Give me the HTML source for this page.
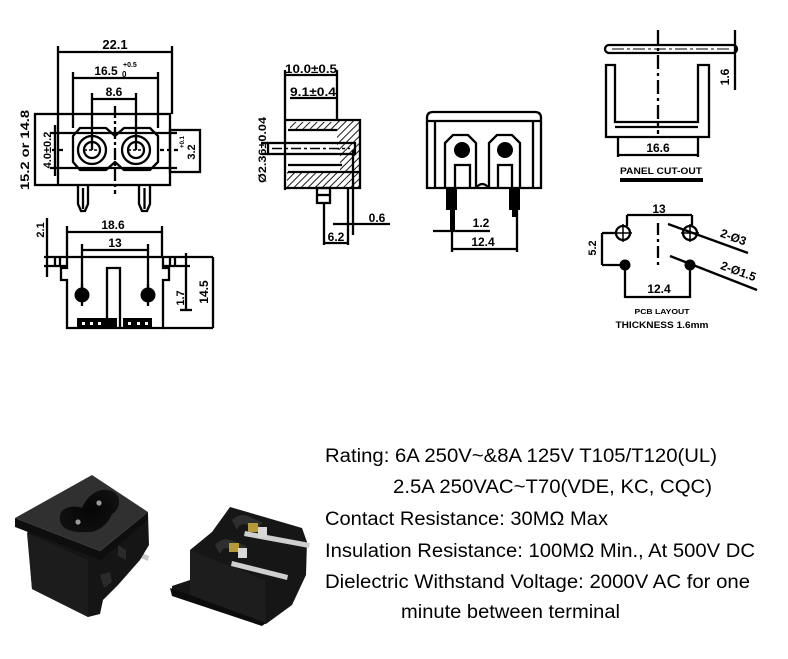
<!DOCTYPE html>
<html><head><meta charset="utf-8"><style>
html,body{margin:0;padding:0;background:#fff;}
svg{display:block}
.t{font-family:"Liberation Sans",Arial,sans-serif;font-weight:bold;fill:#000;stroke:none;}
.s{font-family:"Liberation Sans",Arial,sans-serif;fill:#000;stroke:none;font-size:19px;}
</style></head><body>
<svg width="788" height="659" viewBox="0 0 788 659" xmlns="http://www.w3.org/2000/svg">
<defs>
<pattern id="h" width="5" height="5" patternUnits="userSpaceOnUse" patternTransform="rotate(45)">
<line x1="0" y1="0" x2="0" y2="5" stroke="#000" stroke-width="1.8"/>
</pattern>
<radialGradient id="keyg" cx="0.5" cy="0.5" r="0.6"><stop offset="0" stop-color="#050505"/><stop offset="1" stop-color="#111"/></radialGradient>
</defs>

<!-- ============ VIEW A : front ============ -->
<g fill="none" stroke="#000" stroke-width="2.3">
  <line x1="58" y1="52" x2="172" y2="52"/>
  <line x1="58" y1="46" x2="58" y2="114"/>
  <line x1="172" y1="46" x2="172" y2="114"/>
  <line x1="73" y1="78" x2="158" y2="78"/>
  <line x1="73" y1="72" x2="73" y2="128"/>
  <line x1="158" y1="72" x2="158" y2="128"/>
  <line x1="92" y1="99" x2="136" y2="99"/>
  <line x1="92" y1="93" x2="92" y2="150"/>
  <line x1="136" y1="93" x2="136" y2="150"/>
  <rect x="35" y="114" width="135" height="71"/>
  <line x1="58" y1="114" x2="58" y2="185"/>
  <rect x="170" y="130" width="30" height="42"/>
  <line x1="50" y1="133" x2="177" y2="133"/>
  <line x1="50" y1="168" x2="177" y2="168"/>
  <line x1="55" y1="125" x2="55" y2="176"/>
  <line x1="52" y1="150" x2="66" y2="150" stroke-dasharray="4,3"/>
  <line x1="160" y1="150" x2="180" y2="150" stroke-dasharray="4,3"/>
  <line x1="115" y1="106" x2="115" y2="194" stroke-dasharray="12,3,3,3"/>
  <path d="M80,128 H106 L115,136 L124,128 H150 L158,136 V162 L150,170 H124 L115,162 L106,170 H80 L73,162 V136 Z"/>
  <circle cx="92" cy="150" r="14"/>
  <circle cx="92" cy="150" r="8"/>
  <circle cx="136" cy="150" r="14"/>
  <circle cx="136" cy="150" r="8"/>
  <line x1="84" y1="150" x2="100" y2="150" stroke-width="1.5" stroke-dasharray="3,2"/>
  <line x1="128" y1="150" x2="144" y2="150" stroke-width="1.5" stroke-dasharray="3,2"/>
  <path d="M78,185 V204 L81,211 H85 L88,204 V185"/>
  <line x1="83" y1="188" x2="83" y2="209"/>
  <path d="M139,185 V204 L142,211 H147 L150,204 V185"/>
  <line x1="144.5" y1="188" x2="144.5" y2="209"/>
</g>
<text class="t" x="115" y="49" font-size="13" text-anchor="middle">22.1</text>
<text class="t" x="106" y="75" font-size="12" text-anchor="middle">16.5</text>
<text class="t" x="123" y="67" font-size="7">+0.5</text>
<text class="t" x="122" y="77" font-size="8">0</text>
<text class="t" x="114" y="96" font-size="12" text-anchor="middle">8.6</text>
<text class="t" x="25" y="150" font-size="12" text-anchor="middle" transform="rotate(-90 25 150)" dy="4" textLength="80" lengthAdjust="spacingAndGlyphs">15.2 or 14.8</text>
<text class="t" x="47" y="150" font-size="11" text-anchor="middle" transform="rotate(-90 47 150)" dy="4">4.0±0.2</text>
<text class="t" x="191" y="152" font-size="11" text-anchor="middle" transform="rotate(-90 191 152)" dy="4">3.2</text>
<text class="t" x="184" y="142" font-size="6" text-anchor="middle" transform="rotate(-90 184 142)">+0.1</text>

<!-- ============ VIEW B : bottom ============ -->
<g fill="none" stroke="#000" stroke-width="2.3">
  <line x1="67" y1="232" x2="162" y2="232"/>
  <line x1="67" y1="226" x2="67" y2="257"/>
  <line x1="162" y1="226" x2="162" y2="257"/>
  <line x1="82" y1="250" x2="148" y2="250"/>
  <line x1="82" y1="244" x2="82" y2="290"/>
  <line x1="148" y1="244" x2="148" y2="290"/>
  <line x1="47" y1="218" x2="47" y2="277"/>
  <line x1="44" y1="257" x2="213" y2="257"/>
  <line x1="44" y1="266" x2="67" y2="266"/>
  <line x1="163" y1="266" x2="190" y2="266"/>
  <line x1="55" y1="257" x2="55" y2="266"/>
  <line x1="60" y1="257" x2="60" y2="266"/>
  <line x1="170" y1="257" x2="170" y2="266"/>
  <line x1="175" y1="257" x2="175" y2="266"/>
  <path d="M67,257 V268 H61 V280 H67 V328 H163 V280 H169 V268 H163 V257"/>
  <path d="M107,328 V268 H120 V328"/>
  <line x1="163" y1="328" x2="213" y2="328"/>
  <line x1="213" y1="257" x2="213" y2="328"/>
  <line x1="186" y1="253" x2="186" y2="310"/>
  <line x1="180" y1="310" x2="192" y2="310"/>
  <line x1="82" y1="284" x2="82" y2="306"/>
  <line x1="148" y1="284" x2="148" y2="306"/>
</g>
<circle cx="82" cy="295" r="7.5" fill="#000"/>
<circle cx="148" cy="295" r="7.5" fill="#000"/>
<rect x="77" y="318" width="40" height="10" fill="#000"/>
<rect x="123" y="318" width="29" height="10" fill="#000"/>
<g fill="#fff"><rect x="82" y="322" width="3" height="3"/><rect x="90" y="322" width="3" height="3"/><rect x="98" y="322" width="3" height="3"/><rect x="128" y="322" width="3" height="3"/><rect x="137" y="322" width="3" height="3"/><rect x="145" y="322" width="3" height="3"/></g>
<text class="t" x="113" y="229" font-size="12" text-anchor="middle">18.6</text>
<text class="t" x="115" y="247" font-size="12" text-anchor="middle">13</text>
<text class="t" x="40" y="230" font-size="11" text-anchor="middle" transform="rotate(-90 40 230)" dy="4">2.1</text>
<text class="t" x="180" y="298" font-size="11" text-anchor="middle" transform="rotate(-90 180 298)" dy="4">1.7</text>
<text class="t" x="204" y="292" font-size="12" text-anchor="middle" transform="rotate(-90 204 292)" dy="4">14.5</text>

<!-- ============ VIEW C : side ============ -->
<rect x="290" y="122" width="47" height="8" fill="url(#h)"/>
<rect x="337" y="120" width="23" height="30" fill="url(#h)"/>
<rect x="287" y="172" width="73" height="16" fill="url(#h)"/>
<rect x="340" y="150" width="20" height="22" fill="url(#h)"/>
<g fill="none" stroke="#000" stroke-width="2.3">
  <line x1="285" y1="75" x2="337" y2="75"/>
  <line x1="290" y1="98" x2="337" y2="98"/>
  <line x1="285" y1="70" x2="285" y2="190"/>
  <line x1="337" y1="70" x2="337" y2="120"/>
  <path d="M285,120 H360 V188 H285"/>
  <line x1="288" y1="130" x2="337" y2="130"/>
  <line x1="288" y1="165" x2="342" y2="165"/>
  <line x1="288" y1="172" x2="360" y2="172"/>
  <rect x="268" y="143" width="87" height="11"/>
  <line x1="272" y1="148.5" x2="350" y2="148.5" stroke-width="1.5" stroke-dasharray="10,3,3,3"/>
  <line x1="262" y1="143" x2="268" y2="143"/>
  <line x1="262" y1="154" x2="268" y2="154"/>
  <rect x="317" y="188" width="13" height="15"/>
  <line x1="317" y1="195" x2="330" y2="195"/>
  <line x1="324" y1="203" x2="324" y2="245"/>
  <line x1="348" y1="188" x2="348" y2="245"/>
  <line x1="353" y1="150" x2="353" y2="235"/>
  <line x1="333" y1="224" x2="390" y2="224"/>
  <line x1="324" y1="243" x2="348" y2="243"/>
</g>
<text class="t" x="311" y="73" font-size="12" text-anchor="middle" textLength="52" lengthAdjust="spacingAndGlyphs">10.0±0.5</text>
<text class="t" x="313" y="96" font-size="12" text-anchor="middle" textLength="46" lengthAdjust="spacingAndGlyphs">9.1±0.4</text>
<text class="t" x="262" y="150" font-size="11" text-anchor="middle" transform="rotate(-90 262 150)" dy="4" textLength="66" lengthAdjust="spacingAndGlyphs">Ø2.36±0.04</text>
<text class="t" x="377" y="222" font-size="12" text-anchor="middle">0.6</text>
<text class="t" x="336" y="241" font-size="12" text-anchor="middle">6.2</text>

<!-- ============ VIEW D : rear ============ -->
<g fill="none" stroke="#000" stroke-width="2.3">
  <path d="M427,188 V118 Q427,112 433,112 H535 Q541,112 541,118 V188 Z"/>
  <line x1="427" y1="121" x2="541" y2="121"/>
  <line x1="435" y1="121" x2="435" y2="188"/>
  <line x1="533" y1="121" x2="533" y2="188"/>
  <path d="M445,188 V143 L453,135 H468 L476,143 V188"/>
  <path d="M455,188 V165 H470 V188"/>
  <path d="M489,188 V143 L497,135 H512 L520,143 V188"/>
  <path d="M498,188 V165 H512 V188"/>
  <path d="M476,188 Q482,180 489,188"/>
  <line x1="433" y1="231" x2="490" y2="231"/>
  <line x1="452" y1="249" x2="517" y2="249"/>
  <line x1="452" y1="188" x2="452" y2="252"/>
  <line x1="517" y1="188" x2="517" y2="252"/>
</g>
<circle cx="462" cy="150" r="8" fill="#000"/>
<circle cx="505" cy="150" r="8" fill="#000"/>
<rect x="446" y="188" width="11" height="22" fill="#000"/>
<rect x="450" y="210" width="5" height="20" fill="#000"/>
<rect x="509" y="188" width="11" height="22" fill="#000"/>
<rect x="512" y="205" width="5" height="12" fill="#000"/>
<text class="t" x="481" y="227" font-size="12" text-anchor="middle">1.2</text>
<text class="t" x="483" y="246" font-size="12" text-anchor="middle">12.4</text>

<!-- ============ VIEW E : panel cut-out ============ -->
<g fill="none" stroke="#000" stroke-width="2.3">
  <line x1="658" y1="30" x2="658" y2="134" stroke-dasharray="14,4,3,4"/>
  <rect x="605" y="45" width="132" height="8" rx="4"/>
  <line x1="612" y1="49" x2="730" y2="49" stroke-width="1" stroke-dasharray="12,3,3,3"/>
  <line x1="735" y1="30" x2="735" y2="90"/>
  <path d="M606,65 H615 V122 H698 V65 H709 V137 H606 Z"/>
  <line x1="615" y1="127" x2="698" y2="127"/>
  <line x1="618" y1="137" x2="618" y2="157"/>
  <line x1="698" y1="137" x2="698" y2="157"/>
  <line x1="618" y1="155" x2="698" y2="155"/>
</g>
<text class="t" x="725" y="77" font-size="12" text-anchor="middle" transform="rotate(-90 725 77)" dy="4">1.6</text>
<text class="t" x="658" y="152" font-size="12" text-anchor="middle">16.6</text>
<text class="t" x="661" y="174" font-size="9" text-anchor="middle" textLength="82" lengthAdjust="spacingAndGlyphs">PANEL CUT-OUT</text>
<rect x="620" y="178" width="83" height="4" fill="#000"/>

<!-- ============ VIEW F : PCB layout ============ -->
<g fill="none" stroke="#000" stroke-width="2.3">
  <line x1="627" y1="215" x2="692" y2="215"/>
  <line x1="627" y1="215" x2="627" y2="226"/>
  <line x1="692" y1="215" x2="692" y2="226"/>
  <circle cx="623" cy="233" r="7"/>
  <circle cx="690" cy="233" r="7"/>
  <line x1="614" y1="233" x2="632" y2="233" stroke-width="1.5"/>
  <line x1="623" y1="224" x2="623" y2="242" stroke-width="1.5"/>
  <line x1="681" y1="233" x2="699" y2="233" stroke-width="1.5"/>
  <line x1="690" y1="224" x2="690" y2="242" stroke-width="1.5"/>
  <line x1="658" y1="223" x2="658" y2="268" stroke-dasharray="12,4,3,4"/>
  <line x1="602" y1="233" x2="602" y2="265"/>
  <line x1="602" y1="233" x2="615" y2="233"/>
  <line x1="602" y1="265" x2="620" y2="265"/>
  <line x1="625" y1="265" x2="625" y2="298"/>
  <line x1="690" y1="265" x2="690" y2="298"/>
  <line x1="625" y1="297" x2="690" y2="297"/>
  <line x1="668" y1="224" x2="748" y2="253"/>
  <line x1="670" y1="256" x2="757" y2="290"/>
</g>
<circle cx="625" cy="265" r="5.5" fill="#000"/>
<circle cx="690" cy="265" r="5.5" fill="#000"/>
<text class="t" x="659" y="213" font-size="12" text-anchor="middle">13</text>
<text class="t" x="592" y="248" font-size="11" text-anchor="middle" transform="rotate(-90 592 248)" dy="4">5.2</text>
<text class="t" x="659" y="293" font-size="12" text-anchor="middle">12.4</text>
<text class="t" x="732" y="241" font-size="12" text-anchor="middle" transform="rotate(20 732 241)">2-Ø3</text>
<text class="t" x="737" y="275" font-size="12" text-anchor="middle" transform="rotate(20 737 275)">2-Ø1.5</text>
<text class="t" x="662" y="314" font-size="7" text-anchor="middle" textLength="55" lengthAdjust="spacingAndGlyphs">PCB LAYOUT</text>
<text class="t" x="662" y="328" font-size="9" text-anchor="middle" textLength="93" lengthAdjust="spacingAndGlyphs">THICKNESS 1.6mm</text>

<!-- ============ PHOTO : left connector ============ -->
<g>
  <path d="M112,541 L149,556 L148,561 L111,546 Z" fill="#c9c9c9"/>
  <path d="M92,577 L112,586 L111,591 L91,582 Z" fill="#c9c9c9"/>
  <path d="M27,528 L100,556 L148,514 L149,545 L140,560 L118,585 L103,600 L100,614 L88,617 L32,589 Z" fill="#151515"/>
  <path d="M27,533 L88,560 L88,617 L32,589 Z" fill="#1c1c1c"/>
  <path d="M118,545 L126,550 L126,560 L118,556 Z" fill="#2a2a2a"/>
  <path d="M100,575 L110,572 L112,582 L104,588 Z" fill="#2a2a2a"/>
  <path d="M15,518 L100,551 L148,512 L148,520 L101,560 L15,527 Z" fill="#0e0e0e"/>
  <path d="M15,518 L92,475 L148,512 L100,551 Z" fill="#303030"/>
  <path d="M60,520 C58,508 72,504 82,508 C86,498 96,488 108,490 C122,492 122,508 112,514 C108,524 98,534 84,532 C70,533 61,528 60,520 Z" fill="url(#keyg)"/>
  <circle cx="78" cy="522" r="2.6" fill="#9a9a9a"/>
  <circle cx="99" cy="503" r="2.6" fill="#9a9a9a"/>
</g>

<!-- ============ PHOTO : right connector ============ -->
<g>
  <path d="M230,507 L302,528 L307,542 L306,575 L292,605 L266,624 L172,594 L172,586 L190,580 L190,550 L212,532 Z" fill="#161616"/>
  <path d="M190,550 L265,580 L266,623 L190,595 Z" fill="#1d1d1d"/>
  <path d="M170,588 L190,595 L266,623 L262,626 L172,596 Z" fill="#0c0c0c"/>
  <path d="M232,520 Q240,512 250,517 L262,522 L258,530 L247,525 Q240,522 237,530 Z" fill="#2e2e2e"/>
  <path d="M215,545 Q222,536 234,541 L246,546 L242,554 L230,549 Q223,546 220,554 Z" fill="#2e2e2e"/>
  <path d="M245,531 L310,543 L309,548 L244,536 Z" fill="#cfcfcf"/>
  <path d="M232,561 L288,575 L287,580 L231,566 Z" fill="#cfcfcf"/>
  <rect x="248" y="523" width="10" height="9" fill="#b59a3a"/>
  <rect x="229" y="543" width="10" height="9" fill="#b59a3a"/>
  <rect x="258" y="527" width="9" height="10" fill="#d8d8d8"/>
  <rect x="238" y="548" width="9" height="10" fill="#d8d8d8"/>
</g>

<!-- ============ SPEC TEXT ============ -->
<text class="s" x="325" y="462" textLength="392" lengthAdjust="spacingAndGlyphs">Rating: 6A 250V~&amp;8A 125V T105/T120(UL)</text>
<text class="s" x="393" y="493" textLength="319" lengthAdjust="spacingAndGlyphs">2.5A 250VAC~T70(VDE, KC, CQC)</text>
<text class="s" x="325" y="525" textLength="283" lengthAdjust="spacingAndGlyphs">Contact Resistance: 30MΩ Max</text>
<text class="s" x="325" y="557" textLength="430" lengthAdjust="spacingAndGlyphs">Insulation Resistance: 100MΩ Min., At 500V DC</text>
<text class="s" x="325" y="588" textLength="425" lengthAdjust="spacingAndGlyphs">Dielectric Withstand Voltage: 2000V AC for one</text>
<text class="s" x="401" y="618" textLength="219" lengthAdjust="spacingAndGlyphs">minute between terminal</text>
</svg>
</body></html>
